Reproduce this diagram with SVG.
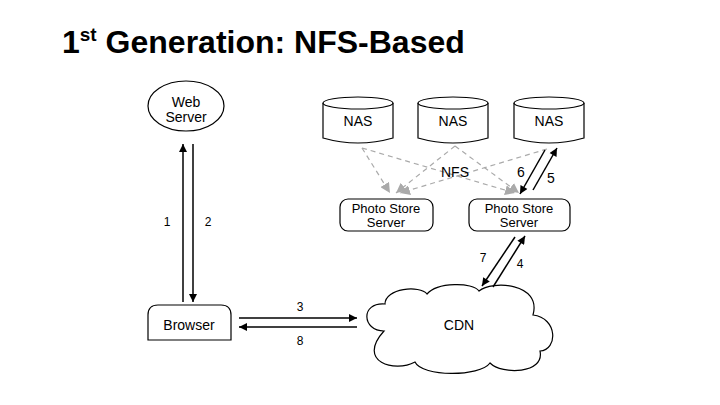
<svg xmlns="http://www.w3.org/2000/svg" width="720" height="405" viewBox="0 0 720 405">
<defs>
<style>
text{font-family:"Liberation Sans",Arial,sans-serif;fill:#000}
.lbl{font-size:14px;text-anchor:middle}
.pss{font-size:13px;text-anchor:middle}
.num{font-size:12px;text-anchor:middle}
.shape{fill:#fff;stroke:#000;stroke-width:1.2}
.arr{stroke:#000;stroke-width:1.5;fill:none;marker-end:url(#ah)}
.nfs{stroke:#aaa;stroke-width:1.2;stroke-dasharray:5,4;fill:none;marker-end:url(#gh)}
</style>
<marker id="ah" viewBox="0 0 10 10" refX="10" refY="5" markerWidth="9" markerHeight="8" markerUnits="userSpaceOnUse" orient="auto"><path d="M0,0 L10,5 L0,10 z" fill="#000"/></marker>
<marker id="gh" viewBox="0 0 10 10" refX="10" refY="5" markerWidth="10" markerHeight="10" markerUnits="userSpaceOnUse" orient="auto"><path d="M0,0 L10,5 L0,10 z" fill="#aaa"/></marker>
</defs>
<rect width="720" height="405" fill="#fff"/>
<text x="62" y="53" font-size="32" font-weight="bold">1<tspan font-size="19" dy="-12">st</tspan><tspan dy="12"> Generation: NFS-Based</tspan></text>

<g id="web-server">
<ellipse class="shape" cx="186" cy="106" rx="38" ry="25"/>
<text class="lbl" x="186" y="107" font-size="15">Web</text>
<text class="lbl" x="186" y="122" font-size="15">Server</text>
</g>
<g id="browser">
<path class="shape" d="M148,340 L148,315 Q148,305 158,305 L221,305 Q231,305 231,315 L231,340 Z"/>
<text class="lbl" x="189" y="330">Browser</text>
</g>
<g id="nas1">
<path class="shape" d="M323,103 L323,138 Q358,148 393,138 L393,103"/>
<ellipse class="shape" cx="358" cy="103" rx="35" ry="6"/>
<text class="lbl" x="358" y="126">NAS</text>
</g>
<g id="nas2">
<path class="shape" d="M418,103 L418,138 Q453,148 488,138 L488,103"/>
<ellipse class="shape" cx="453" cy="103" rx="35" ry="6"/>
<text class="lbl" x="453" y="126">NAS</text>
</g>
<g id="nas3">
<path class="shape" d="M514,103 L514,138 Q549,148 584,138 L584,103"/>
<ellipse class="shape" cx="549" cy="103" rx="35" ry="6"/>
<text class="lbl" x="549" y="126">NAS</text>
</g>
<g id="photo-store-1">
<rect class="shape" x="340" y="199" width="93" height="32" rx="8"/>
<text class="pss" x="386" y="213">Photo Store</text>
<text class="pss" x="386" y="227">Server</text>
</g>
<g id="photo-store-2">
<rect class="shape" x="469" y="199" width="101" height="32" rx="8"/>
<text class="pss" x="519" y="213">Photo Store</text>
<text class="pss" x="519" y="227">Server</text>
</g>
<g id="cdn">
<path class="shape" d="M384,331 C362,331 360,302 385,304 C385,288 420,285 427,294 C437,282 473,282 479,291 C492,280 542,283 533,315 C558,318 558,350 540,351 C545,374 502,375 490,363 C480,377 422,377 415,362 C395,373 356,362 384,331 Z"/>
<text class="lbl" x="459" y="330" font-size="14.5">CDN</text>
</g>

<g id="connectors">
<line class="nfs" x1="362" y1="148" x2="390" y2="193"/>
<line class="nfs" x1="362" y1="148" x2="515" y2="193"/>
<line class="nfs" x1="455" y1="146" x2="396" y2="193"/>
<line class="nfs" x1="455" y1="146" x2="519" y2="193"/>
<line class="nfs" x1="547" y1="149" x2="400" y2="193"/>
<line class="arr" x1="183" y1="302" x2="183" y2="144"/>
<line class="arr" x1="193" y1="144" x2="193" y2="302"/>
<line class="arr" x1="239" y1="318" x2="357" y2="318"/>
<line class="arr" x1="357" y1="327" x2="239" y2="327"/>
<line class="arr" x1="545" y1="150" x2="520" y2="194"/>
<line class="arr" x1="533" y1="190" x2="557" y2="148"/>
<line class="arr" x1="515" y1="237" x2="482" y2="286"/>
<line class="arr" x1="493" y1="287" x2="525" y2="236"/>
<text class="num" x="167" y="226">1</text>
<text class="num" x="208" y="226">2</text>
<text class="num" x="300" y="311">3</text>
<text class="num" x="300" y="345">8</text>
<text class="lbl" x="455" y="177">NFS</text>
<text class="lbl" x="521" y="177">6</text>
<text class="lbl" x="551" y="183">5</text>
<text class="num" x="483" y="262">7</text>
<text class="num" x="520" y="268">4</text>
</g>
</svg>
